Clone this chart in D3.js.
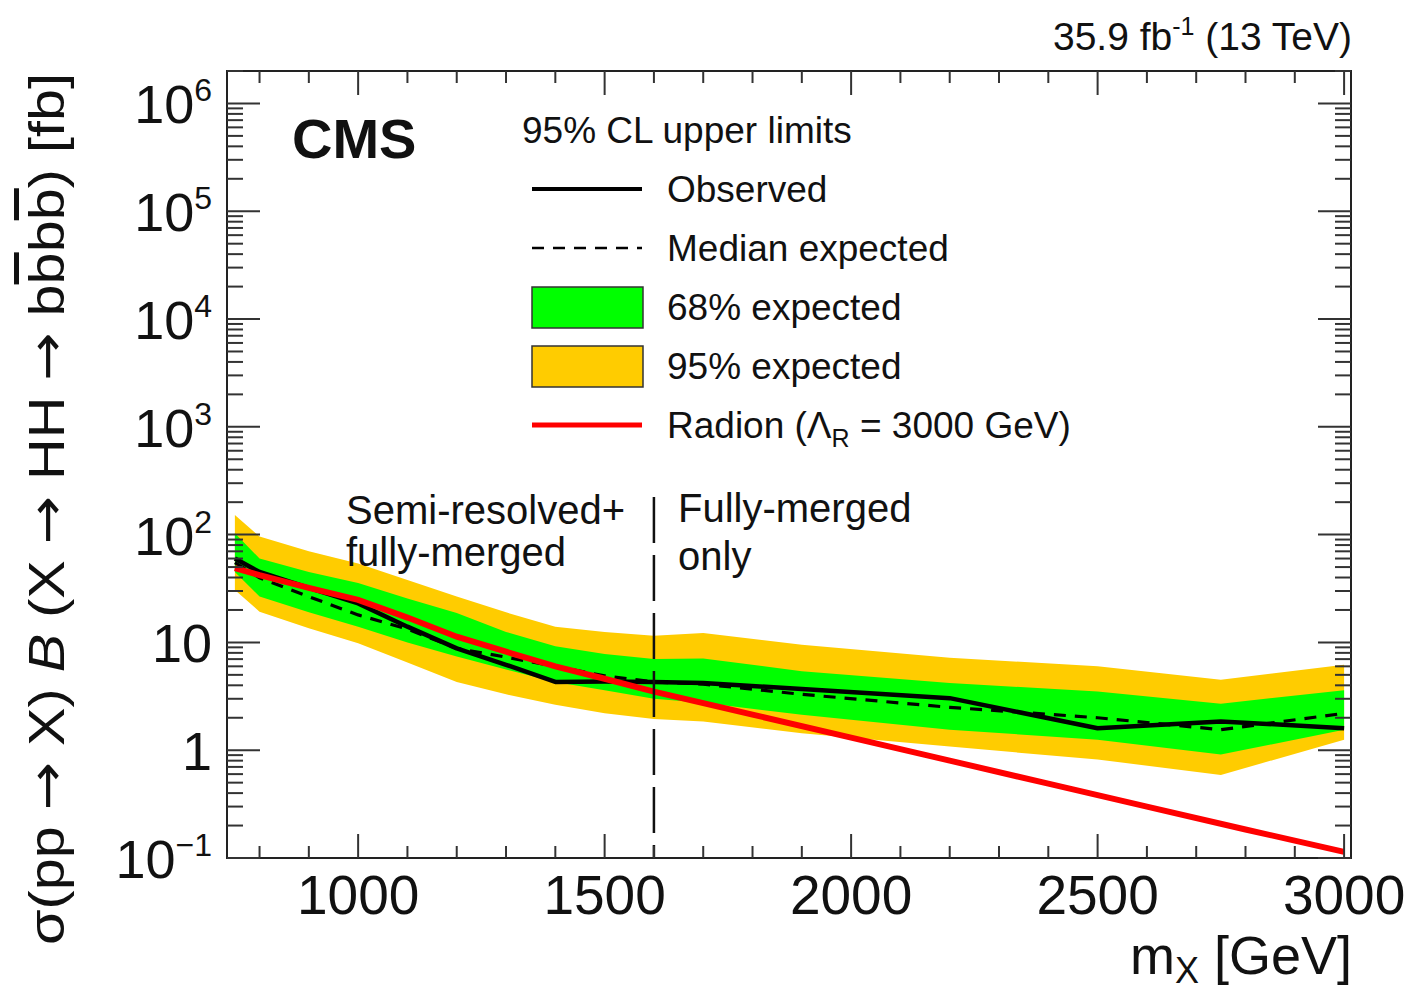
<!DOCTYPE html>
<html>
<head>
<meta charset="utf-8">
<script src="https://cdn.jsdelivr.net/npm/d3@7"></script>
<style>
  body { margin: 0; background: #fff; }
  text { font-family: "Liberation Sans", Arial, Helvetica, sans-serif; fill: #111; }
  .arrow { font-family: "DejaVu Sans", sans-serif; }
</style>
</head>
<body>
<script>
// resonance masses (GeV)
var mass = [750, 800, 900, 1000, 1100, 1200, 1300, 1400, 1500, 1600, 1700, 1900, 2200, 2500, 2750, 3000];
// limits in fb
var observed = [60, 45, 32, 23, 14, 8.8, 6.2, 4.3, 4.35, 4.3, 4.2, 3.7, 3.04, 1.6, 1.85, 1.6];
var expected = [55, 39.7, 26.6, 18, 13.3, 8.8, 7.3, 6.0, 4.9, 4.3, 4.1, 3.3, 2.5, 2.0, 1.55, 2.2];
var band68Up = [103, 60, 45, 35.5, 25.5, 18.7, 12.5, 9.2, 7.8, 7.0, 7.1, 5.4, 4.2, 3.5, 2.7, 3.6];
var band68Dn = [45, 26.6, 19, 14, 10, 7.4, 5.6, 4.3, 3.6, 3.0, 2.75, 2.13, 1.55, 1.25, 0.91, 1.55];
var band95Up = [152, 96, 70, 54, 38, 26.6, 19, 14, 12.5, 11.5, 12.2, 9.5, 7.2, 6.0, 4.5, 6.2];
var band95Dn = [30.7, 19.3, 13.5, 9.8, 6.5, 4.3, 3.3, 2.64, 2.2, 1.95, 1.85, 1.44, 1.08, 0.82, 0.59, 1.25];

// radion theory curve (Lambda_R = 3000 GeV)
var radionMass = [750, 800, 900, 1000, 1100, 1200, 1300, 1400, 1500, 1600, 1800, 2000, 2200, 2400, 2600, 2800, 3000];
var radionXsec = [49, 42, 32, 24.8, 17, 11.3, 8.2, 6.0, 4.6, 3.5, 2.14, 1.31, 0.80, 0.49, 0.30, 0.184, 0.114];

var xMajor = [1000, 1500, 2000, 2500, 3000];
var yMajor = [0.1, 1, 10, 100, 1e3, 1e4, 1e5, 1e6];
var yLabels = [["10", "\u22121"], ["1", ""], ["10", ""], ["10", "2"], ["10", "3"], ["10", "4"], ["10", "5"], ["10", "6"]];
var regionSplit = 1600;

var width = 1412, height = 994;
var pL = 227, pR = 1351, pT = 71, pB = 858;

var svg = d3.select("body").append("svg")
  .attr("width", width)
  .attr("height", height);

var x = d3.scaleLinear().domain([734, 3014]).range([pL, pR]);
var y = d3.scaleLog().domain([0.1, 2e6]).range([pB, pT]);

svg.append("clipPath").attr("id", "clip")
  .append("rect").attr("x", pL).attr("y", pT).attr("width", pR - pL).attr("height", pB - pT);

var plot = svg.append("g").attr("clip-path", "url(#clip)");

//bands
function band(up, dn) {
  return d3.area()
    .x(function (d, i) { return x(mass[i]); })
    .y0(function (d, i) { return y(dn[i]); })
    .y1(function (d, i) { return y(up[i]); })(mass);
}
plot.append("path").attr("d", band(band95Up, band95Dn)).attr("fill", "#ffcc00");
plot.append("path").attr("d", band(band68Up, band68Dn)).attr("fill", "#00ff00");

var line = d3.line()
  .x(function (d) { return x(d[0]); })
  .y(function (d) { return y(d[1]); });

plot.append("path")
  .attr("d", line(d3.zip(mass, expected)))
  .attr("fill", "none").attr("stroke", "#000").attr("stroke-width", 3.2)
  .attr("stroke-dasharray", "12,9");

plot.append("path")
  .attr("d", line(d3.zip(mass, observed)))
  .attr("fill", "none").attr("stroke", "#000").attr("stroke-width", 4.5)
  .attr("stroke-linejoin", "round");

plot.append("path")
  .attr("d", line(d3.zip(radionMass, radionXsec)))
  .attr("fill", "none").attr("stroke", "#ff0000").attr("stroke-width", 6);

// vertical separator at 1600 GeV
svg.append("line")
  .attr("x1", x(regionSplit)).attr("x2", x(regionSplit))
  .attr("y1", 497).attr("y2", pB)
  .attr("stroke", "#111").attr("stroke-width", 2.5)
  .attr("stroke-dasharray", "46,12");

// frame
svg.append("rect")
  .attr("x", pL).attr("y", pT).attr("width", pR - pL).attr("height", pB - pT)
  .attr("fill", "none").attr("stroke", "#222").attr("stroke-width", 2);

var ticks = svg.append("g").attr("stroke", "#333").attr("stroke-width", 2);

// x ticks every 100 GeV, bottom and top
d3.range(800, 3001, 100).forEach(function (m) {
  var len = (m % 500 === 0) ? 24 : 12;
  ticks.append("line").attr("x1", x(m)).attr("x2", x(m)).attr("y1", pB).attr("y2", pB - len);
  ticks.append("line").attr("x1", x(m)).attr("x2", x(m)).attr("y1", pT).attr("y2", pT + len);
});

// y ticks, log decades, left and right
for (var e = -1; e <= 6; e++) {
  for (var k = 1; k <= 9; k++) {
    var v = k * Math.pow(10, e);
    if (v > 2e6) continue;
    var len = (k === 1) ? 33 : 16;
    ticks.append("line").attr("x1", pL).attr("x2", pL + len).attr("y1", y(v)).attr("y2", y(v));
    ticks.append("line").attr("x1", pR).attr("x2", pR - len).attr("y1", y(v)).attr("y2", y(v));
  }
}

// x tick labels
svg.selectAll(".xlab").data(xMajor).enter().append("text")
  .attr("class", "xlab")
  .attr("x", function (d) { return x(d); })
  .attr("y", 914)
  .attr("text-anchor", "middle")
  .attr("font-size", 55)
  .text(function (d) { return d; });

// y tick labels
var ylab = svg.selectAll(".ylab").data(yMajor).enter().append("text")
  .attr("class", "ylab")
  .attr("x", 212)
  .attr("y", function (d) { return y(d) + 20; })
  .attr("text-anchor", "end")
  .attr("font-size", 54);
ylab.append("tspan").text(function (d, i) { return yLabels[i][0]; });
ylab.append("tspan")
  .attr("font-size", 32)
  .attr("dy", -22)
  .text(function (d, i) { return yLabels[i][1]; });

// axis titles
var xt = svg.append("text").attr("x", 1352).attr("y", 974).attr("text-anchor", "end").attr("font-size", 54);
xt.append("tspan").text("m");
xt.append("tspan").attr("font-size", 36).attr("dy", 9).text("X");
xt.append("tspan").attr("dy", -9).text(" [GeV]");

var yt = svg.append("text")
  .attr("transform", "translate(64,945) rotate(-90)")
  .attr("text-anchor", "start")
  .attr("textLength", 872)
  .attr("lengthAdjust", "spacingAndGlyphs")
  .attr("font-size", 50);
function arrow(sel) { sel.append("tspan").attr("class", "arrow").text("\u2192"); }
yt.append("tspan").text("\u03c3(pp ");
arrow(yt);
yt.append("tspan").text(" X) ");
yt.append("tspan").attr("font-style", "italic").text("B");
yt.append("tspan").text(" (X ");
arrow(yt);
yt.append("tspan").text(" HH ");
arrow(yt);
yt.append("tspan").text(" b");
yt.append("tspan").style("text-decoration", "overline").text("b");
yt.append("tspan").text("b");
yt.append("tspan").style("text-decoration", "overline").text("b");
yt.append("tspan").text(") [fb]");

// header texts
var lumi = svg.append("text").attr("x", 1352).attr("y", 50).attr("text-anchor", "end").attr("font-size", 39);
lumi.append("tspan").text("35.9 fb");
lumi.append("tspan").attr("font-size", 25).attr("dy", -15).text("-1");
lumi.append("tspan").attr("dy", 15).text(" (13 TeV)");

svg.append("text").attr("x", 292).attr("y", 158)
  .attr("font-size", 56).attr("font-weight", "bold").text("CMS");

// legend
svg.append("text").attr("x", 522).attr("y", 143).attr("font-size", 37).text("95% CL upper limits");

var legendRows = [
  { label: "Observed", kind: "obs" },
  { label: "Median expected", kind: "exp" },
  { label: "68% expected", kind: "b68" },
  { label: "95% expected", kind: "b95" },
  { label: "Radion", kind: "rad" }
];
var legend = svg.append("g");
legendRows.forEach(function (r, i) {
  var cy = 189 + i * 59;
  if (r.kind === "obs") {
    legend.append("line").attr("x1", 532).attr("x2", 642).attr("y1", cy).attr("y2", cy)
      .attr("stroke", "#000").attr("stroke-width", 4);
  } else if (r.kind === "exp") {
    legend.append("line").attr("x1", 532).attr("x2", 642).attr("y1", cy).attr("y2", cy)
      .attr("stroke", "#000").attr("stroke-width", 2.5).attr("stroke-dasharray", "12,9");
  } else if (r.kind === "rad") {
    legend.append("line").attr("x1", 532).attr("x2", 642).attr("y1", cy).attr("y2", cy)
      .attr("stroke", "#ff0000").attr("stroke-width", 5);
  } else {
    legend.append("rect").attr("x", 532).attr("y", cy - 20).attr("width", 111).attr("height", 41)
      .attr("fill", r.kind === "b68" ? "#00ff00" : "#ffcc00")
      .attr("stroke", "#333").attr("stroke-width", 1.5);
  }
  var t = legend.append("text").attr("x", 667).attr("y", cy + 13).attr("font-size", 37);
  if (r.kind === "rad") {
    t.append("tspan").text("Radion (\u039b");
    t.append("tspan").attr("font-size", 25).attr("dy", 9).text("R");
    t.append("tspan").attr("dy", -9).text(" = 3000 GeV)");
  } else {
    t.text(r.label);
  }
});

// region labels
svg.append("text").attr("x", 346).attr("y", 524).attr("font-size", 40).text("Semi-resolved+");
svg.append("text").attr("x", 346).attr("y", 566).attr("font-size", 40).text("fully-merged");
svg.append("text").attr("x", 678).attr("y", 522).attr("font-size", 40).text("Fully-merged");
svg.append("text").attr("x", 678).attr("y", 570).attr("font-size", 40).text("only");
</script>
</body>
</html>
